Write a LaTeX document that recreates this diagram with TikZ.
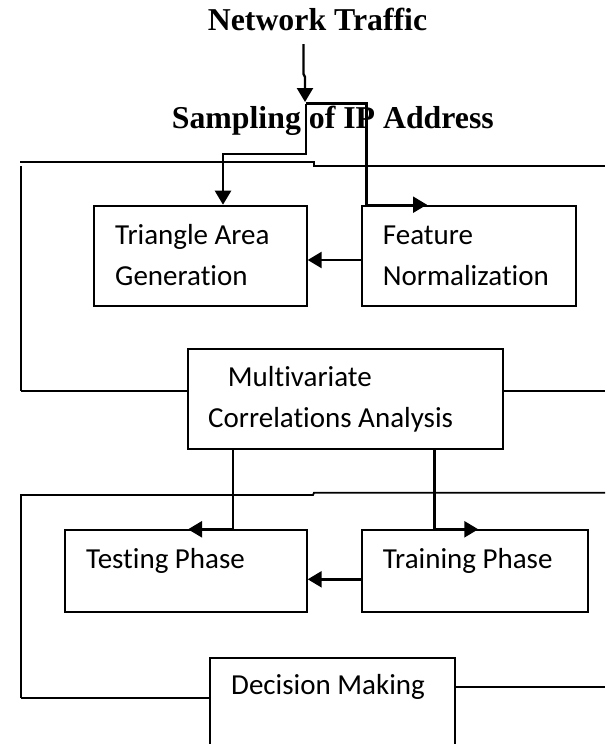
\documentclass[tikz,border=0pt]{standalone}
\usepackage{fontspec}
\setmainfont{Liberation Serif}
\newfontfamily\calfont[Ligatures=CommonOff]{Carlito}
\usetikzlibrary{arrows.meta}
\begin{document}
\begin{tikzpicture}[x=1pt,y=-1pt,
  box/.style={draw, line width=2pt, fill=white, inner sep=0pt, anchor=north west},
  txt/.style={font=\calfont\fontsize{29}{41}\selectfont, anchor=base west, inner sep=0pt},
  ttl/.style={font=\bfseries\fontsize{31.8}{36}\selectfont, inner sep=0pt},
  arr/.style={line width=2.4pt, -{Triangle[length=14pt,width=16pt]}},
  lane/.style={line width=1.8pt}]

\useasboundingbox (0,0) rectangle (605,744);
\clip (0,0) rectangle (605,744);

% titles
\node[ttl, anchor=base] (nt) at (317.5,30.7) {Network Traffic};
\node[ttl, anchor=base west] (samp) at (171.7,128) {Sampling of IP Address};

% lane lines
\draw[lane] (20,161.7) -- (314,161.7) -- (314,165.7) -- (605,165.7);
\draw[lane] (21.3,166) -- (21.3,390.7);
\draw[lane] (20,495) -- (313,495) -- (314,492.7) -- (605,492.7);
\draw[lane] (21.3,495) -- (21.3,698.3);

% boxes
\node[box, minimum width=213pt, minimum height=100pt] (tri) at (92.7,204.7) {};
\node[box, minimum width=214.6pt, minimum height=100pt] (feat) at (360.7,204.7) {};
\node[box, minimum width=315pt, minimum height=99.7pt] (multi) at (186.7,348) {};
\node[box, minimum width=241.7pt, minimum height=81.7pt] (test) at (64,529.3) {};
\node[box, minimum width=226.6pt, minimum height=81.7pt] (train) at (360.7,529.3) {};
\node[box, minimum width=245pt, minimum height=120pt] (dec) at (209.3,656.7) {};

% lane links to boxes
\draw[lane] (21.3,390.7) -- (multi.west |- 0,390.7);
\draw[lane] (multi.east |- 0,390.7) -- (605,390.7);
\draw[lane] (21.3,698.3) -- (dec.west |- 0,698.3);
\draw[lane] (dec.east |- 0,687.3) -- (605,687.3);

% texts
\node[txt] (t1) at (115,244) {Triangle Area};
\node[txt] (t2) at (115,285) {Generation};
\node[txt] (f1) at (382.7,244) {Feature};
\node[txt] (f2) at (382.7,285) {Normalization};
\node[txt] (m1) at (227.7,386.7) {Multivariate};
\node[txt] (m2) at (208,427) {Correlations Analysis};
\node[txt] (te) at (86,568.3) {Testing Phase};
\node[txt] (tr) at (382.7,568.3) {Training Phase};
\node[txt] (de) at (231,694) {Decision Making};

% connectors
\coordinate (ntstart) at (303.5,44);
\coordinate (split) at (305.7,103.5);
\draw[arr] (ntstart) -- (303.5,74) -- (305,77) -- (305,102);
\draw[arr] (split) -- (305.7,154) -- (223,154) -- (223,0 |- tri.north);
\draw[arr] (split) -- (366.5,103.5) -- (366.5,0 |- feat.north) -- (427,0 |- feat.north);
\draw[arr] (feat.west |- 0,260) -- (tri.east |- 0,260);
\draw[arr] (232.7,0 |- multi.south) -- (232.7,0 |- test.north) -- (188,0 |- test.north);
\draw[arr] (434.3,0 |- multi.south) -- (434.3,0 |- train.north) -- (478.3,0 |- train.north);
\draw[arr] (train.west |- 0,579.3) -- (test.east |- 0,579.3);
\end{tikzpicture}
\end{document}
